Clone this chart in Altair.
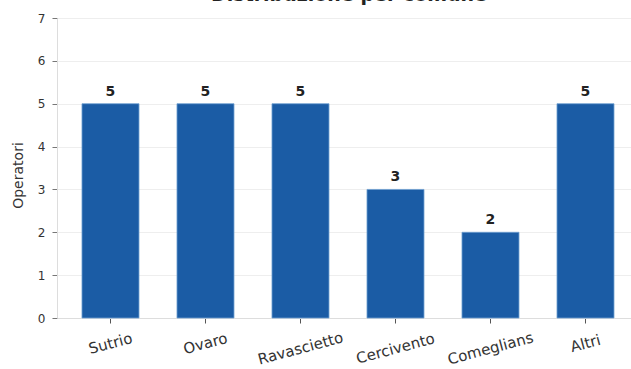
import altair as alt
import pandas as pd

comuni = ["Sutrio", "Ovaro", "Ravascietto", "Cercivento", "Comeglians", "Altri"]
operatori = [5, 5, 5, 3, 2, 5]

df = pd.DataFrame({"comune": comuni, "operatori": operatori})

FONT = "DejaVu Sans"
BAR = "#1b5ca5"

x = alt.X("comune:N", sort=comuni, title=None,
          scale=alt.Scale(paddingInner=0.4, paddingOuter=0.221, align=0.595),
          axis=alt.Axis(labelAngle=345, labelAlign="center", labelBaseline="middle",
                        labelFont=FONT, labelFontSize=15, labelColor="#333333",
                        domainColor="#dddddd", tickColor="#555555", tickSize=5,
                        labelPadding={"condition": {"test": "length(datum.label) > 8", "value": 25},
                                      "value": 20},
                        grid=False))
y = alt.Y("operatori:Q", title="Operatori",
          scale=alt.Scale(domain=[0, 7], nice=False),
          axis=alt.Axis(values=list(range(8)), labelFont=FONT, labelFontSize=12, labelColor="#333333",
                        titleFont=FONT, titleFontSize=14, titleFontWeight="normal", titleColor="#333333",
                        titlePadding=12, titleY=157, domainColor="#dddddd", tickColor="#777777", tickSize=5,
                        gridColor="#eeeeee", labelPadding=7))

base = alt.Chart(df)
bars = base.mark_bar(color=BAR, stroke="#6f9fd0", strokeWidth=0.8).encode(x=x, y=y)
labels = base.mark_text(font=FONT, fontSize=14, fontWeight="bold", color="#222222",
                        baseline="alphabetic", dy=-8).encode(x=x, y=y, text="operatori:Q")

chart = (bars + labels).properties(
    width=574, height=300,
    title=alt.TitleParams("Distribuzione per comune", font=FONT, fontSize=19, fontWeight="bold",
                          color="#222222", anchor="middle", baseline="alphabetic", offset=-8, dx=5),
    autosize=alt.AutoSizeParams(type="none"),
    padding={"left": 57, "top": 18, "right": 0, "bottom": 51},
).configure_view(stroke=None).configure(background="white")

chart.save("out.html", embed_options={"renderer": "svg", "actions": False})
